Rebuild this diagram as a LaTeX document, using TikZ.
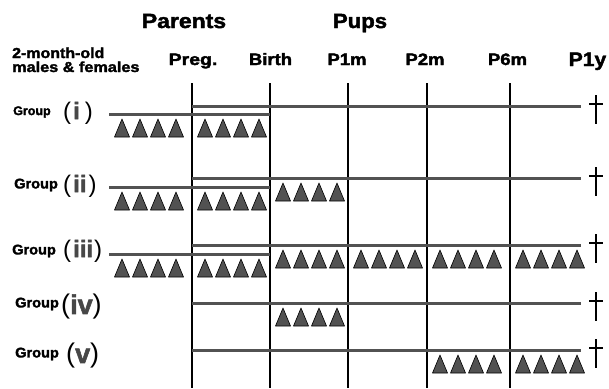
\documentclass[tikz,border=0pt]{standalone}
\usepackage{fontspec}
\setmainfont{Liberation Sans}
\newfontfamily\heavyfont{Liberation Sans Bold}[FakeBold=2]
\usepackage{graphicx}
\newcommand\stretchx[2]{\scalebox{#1}[1]{#2}}
\newcommand\fsz[1]{\fontsize{#1}{#1}\selectfont}
\tikzset{
  timeline/.style={line width=3pt, black!68},
  axisline/.style={line width=1.8pt, black},
  pyramid/.style={fill=black!68, draw=black, line width=0.6pt, line join=round},
  crossmark/.style={line width=2.8pt, black},
  lbl/.style={inner sep=0pt, anchor=base, font=\heavyfont},
  grouplbl/.style={inner sep=0pt, anchor=west, font=\heavyfont},
  numlbl/.style={inner sep=0pt, anchor=west, font=\fsz{24}},
}
% four triangles after the vertical line at x=#1, with tops at y=#2
\newcommand\pyramids[2]{%
  \foreach \o in {13,31,49,67}{%
    \draw[pyramid] ({#1+\o-7.5},{#2+18}) -- ({#1+\o},{#2}) -- ({#1+\o+7.5},{#2+18}) -- cycle;}}
% the end-of-life cross on a pup line at height #2
\newcommand\deathmark[2]{%
  \draw[crossmark] (#1,{#2-11}) -- (#1,{#2+18});
  \draw[crossmark] ({#1-7},{#2-2}) -- ({#1+7},{#2-2});}
\newcommand\grpnum[1]{\textcolor{black!72}{\heavyfont #1}}
\begin{document}
\begin{tikzpicture}[x=1pt,y=-1pt]
\useasboundingbox (0,0) rectangle (609,388);

% headings
\node[lbl] (parents) at (184,28) {\fsz{20.5}\stretchx{1.12}{Parents}};
\node[lbl] (pups) at (360,28) {\fsz{20.5}\stretchx{1.08}{Pups}};
\node[lbl, anchor=base west] (age1) at (12,58) {\fsz{14.5}\stretchx{1.1}{2-month-old}};
\node[lbl, anchor=base west] (age2) at (12,72) {\fsz{14.5}\stretchx{1.12}{males \& females}};
\node[lbl] (preg) at (193,65) {\fsz{16.5}\stretchx{1.18}{Preg.}};
\node[lbl] (birth) at (270.5,65) {\fsz{16.5}\stretchx{1.12}{Birth}};
\node[lbl] (p1m) at (347,65) {\fsz{16.5}\stretchx{1.12}{P1m}};
\node[lbl] (p2m) at (425,65) {\fsz{16.5}\stretchx{1.12}{P2m}};
\node[lbl] (p6m) at (507.5,65) {\fsz{16.5}\stretchx{1.12}{P6m}};
\node[lbl] (p1y) at (587.5,66) {\fsz{19.5}\stretchx{1.08}{P1y}};

% vertical time marks
\foreach \n/\x in {a/192,b/270,c/348,d/427,e/510}{
  \coordinate (top\n) at (\x,83);
  \coordinate (bot\n) at (\x,388);
  \draw[axisline] (top\n) -- (bot\n);
}

% group labels
\node[grouplbl, font=\heavyfont\fsz{12.5}] (g1) at (13,112) {Group};
\node[numlbl] (n1) at (63,113) {(\hspace{2pt}\grpnum{i}\hspace{5pt})};
\node[grouplbl, font=\heavyfont\fsz{14}] (g2) at (14,185) {\stretchx{1.04}{Group}};
\node[numlbl] (n2) at (63,186) {(\hspace{2pt}\grpnum{ii}\hspace{2pt})};
\node[grouplbl, font=\heavyfont\fsz{14}] (g3) at (12,251) {\stretchx{1.04}{Group}};
\node[numlbl] (n3) at (63,251) {(\hspace{2pt}\grpnum{iii}\hspace{1pt})};
\node[grouplbl, font=\heavyfont\fsz{14}] (g4) at (15,304) {\stretchx{1.04}{Group}};
\node[numlbl, font=\fsz{27}] (n4) at (61,307) {(\grpnum{iv})};
\node[grouplbl, font=\heavyfont\fsz{14}] (g5) at (15,354) {\stretchx{1.04}{Group}};
\node[numlbl, font=\fsz{27}] (n5) at (66,356) {(\grpnum{v})};

% time lines: parents (start at 2 months) and pups (start at pregnancy)
\foreach \k/\py/\cy in {1/106/114, 2/178/187, 3/245/254}{
  \coordinate (ps\k) at (109,\cy);
  \coordinate (pe\k) at (270,\cy);
  \draw[timeline] (ps\k) -- (pe\k);
}
\foreach \k/\py in {1/106, 2/178, 3/245, 4/303, 5/350}{
  \coordinate (us\k) at (192,\py);
  \coordinate (ue\k) at (581,\py);
  \draw[timeline] (us\k) -- (ue\k);
  \deathmark{596}{\py}
}

% treatment periods
% group (i)
\pyramids{109}{119}
\pyramids{192}{119}
% group (ii)
\pyramids{109}{192}
\pyramids{192}{192}
\pyramids{270}{183}
% group (iii)
\pyramids{109}{259}
\pyramids{192}{259}
\pyramids{270}{250}
\pyramids{348}{250}
\pyramids{427}{250}
\pyramids{510}{250}
% group (iv)
\pyramids{270}{308}
% group (v)
\pyramids{427}{355}
\pyramids{510}{355}
\end{tikzpicture}
\end{document}
